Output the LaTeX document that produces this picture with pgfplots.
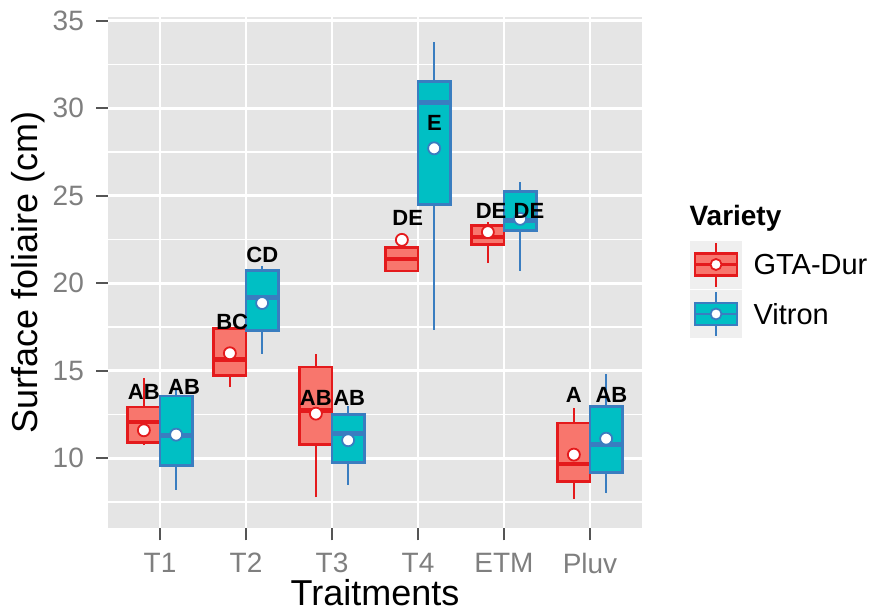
\documentclass[border=0pt]{standalone}
\usepackage{pgfplots}
\pgfplotsset{compat=1.18}
\usepgfplotslibrary{statistics}
\usepackage{fontspec}
\setmainfont{Liberation Sans}

\definecolor{panel}{HTML}{E5E5E5}
\definecolor{redE}{HTML}{E41A1C}
\definecolor{redF}{HTML}{F8766D}
\definecolor{cyanF}{HTML}{00BFC4}
\definecolor{blueE}{HTML}{3A7DC0}
\definecolor{tickgrey}{HTML}{7F7F7F}
\definecolor{tickmark}{HTML}{555555}

\pgfplotsset{
  gta/.style={draw=redE, fill=redF, line width=2.6pt,
    boxplot/draw direction=y,
    boxplot/box extend=0.375, boxplot/whisker extend=0,
    boxplot/every box/.style={line width=2.6pt},
    boxplot/every whisker/.style={line width=2.6pt},
    boxplot/every median/.style={line width=4.5pt}},
  vit/.style={draw=blueE, fill=cyanF, line width=2.6pt,
    boxplot/draw direction=y,
    boxplot/box extend=0.375, boxplot/whisker extend=0,
    boxplot/every box/.style={line width=2.6pt},
    boxplot/every whisker/.style={line width=2.6pt},
    boxplot/every median/.style={line width=4.5pt}},
}

\begin{document}
\begin{tikzpicture}
\useasboundingbox (0,0) rectangle (874pt,612pt);
\begin{axis}[
  at={(108.4pt,83.7pt)}, anchor=south west,
  scale only axis, width=533.2pt, height=511.6pt,
  xmin=0.4, xmax=6.6, ymin=6.0, ymax=35.23,
  xtick={1,2,3,4,5,6}, xticklabels={T1,T2,T3,T4,ETM,Pluv},
  ytick={10,15,20,25,30,35},
  minor ytick={7.5,12.5,17.5,22.5,27.5,32.5},
  grid=both,
  major grid style={white, line width=2.6pt},
  minor grid style={white, line width=1.2pt},
  axis line style={draw=none},
  axis background/.style={fill=panel},
  tick align=outside, tick pos=left,
  major tick length=12pt, minor tick length=0pt,
  major tick style={color=tickmark, line width=2.2pt},
  /pgf/number format/assume math mode=true,
  ticklabel style={font=\fontsize{28}{28}\selectfont, text=tickgrey},
  yticklabel shift=9pt,
  xticklabel style={yshift=-9pt},
  xlabel={Traitments}, ylabel={Surface foliaire (cm)},
  label style={font=\fontsize{36}{36}\selectfont},
  xlabel style={at={(axis description cs:0.5,-0.15)}, anchor=base},
  ylabel style={at={(axis description cs:-0.1508,0.5)}, anchor=center},
  clip=false,
]
% boxes
\addplot[gta, boxplot prepared={draw position=0.8125, lower whisker=10.74, lower quartile=10.9, median=12.07, upper quartile=12.93, upper whisker=14.58}] coordinates {};
\addplot[vit, boxplot prepared={draw position=1.1875, lower whisker=8.21, lower quartile=9.6, median=11.31, upper quartile=13.56, upper whisker=13.9}] coordinates {};
\addplot[gta, boxplot prepared={draw position=1.8125, lower whisker=14.07, lower quartile=14.74, median=15.63, upper quartile=17.4, upper whisker=17.6}] coordinates {};
\addplot[vit, boxplot prepared={draw position=2.1875, lower whisker=15.97, lower quartile=17.3, median=19.2, upper quartile=20.73, upper whisker=21.0}] coordinates {};
\addplot[gta, boxplot prepared={draw position=2.8125, lower whisker=7.76, lower quartile=10.8, median=12.74, upper quartile=15.21, upper whisker=15.94}] coordinates {};
\addplot[vit, boxplot prepared={draw position=3.1875, lower whisker=8.46, lower quartile=9.75, median=11.41, upper quartile=12.5, upper whisker=12.97}] coordinates {};
\addplot[gta, boxplot prepared={draw position=3.8125, lower whisker=20.69, lower quartile=20.69, median=21.4, upper quartile=22.03, upper whisker=22.03}] coordinates {};
\addplot[vit, boxplot prepared={draw position=4.1875, lower whisker=17.35, lower quartile=24.5, median=30.34, upper quartile=31.54, upper whisker=33.76}] coordinates {};
\addplot[gta, boxplot prepared={draw position=4.8125, lower whisker=21.15, lower quartile=22.2, median=22.63, upper quartile=23.3, upper whisker=23.5}] coordinates {};
\addplot[vit, boxplot prepared={draw position=5.1875, lower whisker=20.69, lower quartile=23.0, median=23.58, upper quartile=25.24, upper whisker=25.77}] coordinates {};
\addplot[gta, boxplot prepared={draw position=5.8125, lower whisker=7.7, lower quartile=8.69, median=9.66, upper quartile=12.02, upper whisker=12.9}] coordinates {};
\addplot[vit, boxplot prepared={draw position=6.1875, lower whisker=7.99, lower quartile=9.18, median=10.8, upper quartile=12.97, upper whisker=14.8}] coordinates {};
% means
\addplot[only marks, mark=*, mark size=6pt, mark options={draw=redE, fill=white, line width=1.8pt}]
  coordinates {(0.8125,11.6) (1.8125,16.0) (2.8125,12.55) (3.8125,22.48) (4.8125,22.92) (5.8125,10.21)};
\addplot[only marks, mark=*, mark size=6pt, mark options={draw=blueE, fill=white, line width=1.8pt}]
  coordinates {(1.1875,11.35) (2.1875,18.87) (3.1875,11.03) (4.1875,27.71) (5.1875,23.68) (6.1875,11.12)};
% group letters
\addplot[only marks, mark=none, nodes near coords, point meta=explicit symbolic,
  nodes near coords align={anchor=center},
  every node near coord/.append style={font=\fontsize{22}{22}\selectfont\bfseries, text=black, inner sep=0pt}]
  coordinates {(0.8125,13.78)[AB] (1.28,14.05)[AB] (1.84,17.78)[BC] (2.19,21.64)[CD]
    (2.8125,13.42)[AB] (3.2,13.42)[AB] (3.88,23.76)[DE] (4.19,29.14)[E]
    (4.85,24.16)[DE] (5.29,24.16)[DE] (5.8125,13.6)[A] (6.25,13.64)[AB]};
\end{axis}
% legend
\node[anchor=west, font=\fontsize{28}{28}\selectfont\bfseries] at (686pt,393.5pt) {Variety};
\fill[panel!60!white] (690pt,323pt) rectangle (742pt,371pt);
\fill[panel!60!white] (690pt,274pt) rectangle (742pt,322pt);
\draw[redE, line width=2.6pt] (716pt,325pt) -- (716pt,369pt);
\draw[redE, line width=2.6pt, fill=redF] (695pt,336.5pt) rectangle (737pt,358.5pt);
\draw[redE, line width=2.6pt] (695pt,347.5pt) -- (737pt,347.5pt);
\draw[redE, line width=1.8pt, fill=white] (716pt,347.5pt) circle (5.5pt);
\draw[blueE, line width=2.6pt] (716pt,276pt) -- (716pt,320pt);
\draw[blueE, line width=2.6pt, fill=cyanF] (695pt,287pt) rectangle (737pt,309pt);
\draw[blueE, line width=2.6pt] (695pt,298pt) -- (737pt,298pt);
\draw[blueE, line width=1.8pt, fill=white] (716pt,298pt) circle (5.5pt);
\node[anchor=west, font=\fontsize{29}{29}\selectfont] at (750pt,347.5pt) {GTA-Dur};
\node[anchor=west, font=\fontsize{29}{29}\selectfont] at (750pt,298pt) {Vitron};
\end{tikzpicture}
\end{document}
